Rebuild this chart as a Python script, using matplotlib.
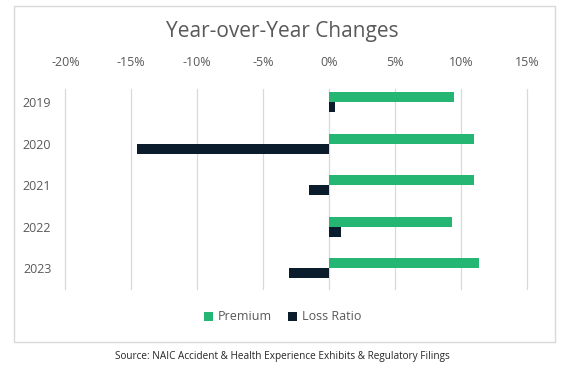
import matplotlib
matplotlib.use("Agg")
import matplotlib.pyplot as plt
from matplotlib.patches import Rectangle
from matplotlib.ticker import FuncFormatter
import numpy as np

# data
years = ["2019", "2020", "2021", "2022", "2023"]
premium = [9.45, 10.95, 11.0, 9.35, 11.4]
loss_ratio = [0.43, -14.55, -1.55, 0.88, -3.05]
xticks = [-20, -15, -10, -5, 0, 5, 10, 15]

green = "#25B673"
navy = "#0B1C2C"
grey_text = "#595959"
grid_col = "#D9D9D9"

plt.rcParams["font.family"] = ["Open Sans", "DejaVu Sans"]

fig = plt.figure(figsize=(5.65, 3.73), dpi=100)

# outer frame of the chart
fig.patches.append(Rectangle((14 / 565, 1 - 342 / 373), 541 / 565, 336 / 373,
                             transform=fig.transFigure, fill=False,
                             edgecolor=grid_col, linewidth=1.0))

ax = fig.add_axes([0.1156, 0.2244, 0.817, 0.5357])

y = np.arange(len(years))
h = 0.24
ax.barh(y - h / 2, premium, height=h, color=green, label="Premium", zorder=3)
ax.barh(y + h / 2, loss_ratio, height=h, color=navy, label="Loss Ratio", zorder=3)

ax.set_xlim(-20, 15)
ax.set_ylim(4.5, -0.3)
ax.set_xticks(xticks)
ax.xaxis.set_major_formatter(FuncFormatter(lambda v, p: f"{v:.0f}%"))
ax.xaxis.tick_top()
ax.tick_params(axis="x", length=0, pad=14.5, labelsize=9, labelcolor=grey_text)
ax.set_yticks(y)
ax.set_yticklabels(years)
ax.tick_params(axis="y", length=0, pad=10, labelsize=9, labelcolor=grey_text)

for s in ax.spines.values():
    s.set_visible(False)
ax.grid(axis="x", color=grid_col, linewidth=0.9, zorder=0)
for gl in ax.get_xgridlines():
    gl.set_clip_on(False)

fig.text(0.5, 1 - 32 / 373, "Year-over-Year Changes", ha="center", va="center",
         fontsize=15, color=grey_text)

leg = fig.legend(loc="center", bbox_to_anchor=(0.5, 1 - 317 / 373), ncol=2,
                 frameon=False, fontsize=9, handlelength=0.7, handleheight=0.7,
                 handletextpad=0.4, columnspacing=1.3)
for t in leg.get_texts():
    t.set_color(grey_text)

fig.text(0.5, 1 - 357 / 373,
         "Source: NAIC Accident & Health Experience Exhibits & Regulatory Filings",
         ha="center", va="center", fontsize=7.2, color="#262626")

fig.savefig("out.png", dpi=100)
